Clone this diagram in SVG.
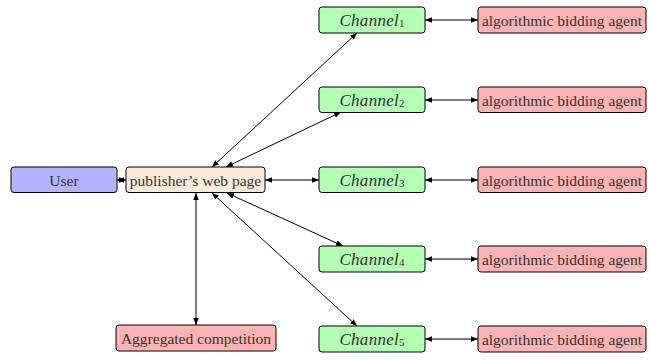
<svg xmlns="http://www.w3.org/2000/svg" width="649" height="360" viewBox="0 0 649 360">
<defs>
<marker id="ah" viewBox="0 0 10 10" refX="10" refY="5" markerWidth="7" markerHeight="7" markerUnits="userSpaceOnUse" orient="auto-start-reverse">
<path d="M0,1 L10,5 L0,9 Z" fill="#000"/>
</marker>
</defs>
<style>
.n rect{stroke:#000;stroke-width:1;}
text{font-family:'Liberation Serif','Times New Roman',serif;font-size:15.5px;fill:#333;text-anchor:middle;dominant-baseline:central;}
.i{font-style:italic;font-size:17px;letter-spacing:0.3px;}
.blue{fill:#b3b3ff;}
.org{fill:#ffebd8;}
.grn{fill:#b3ffb3;}
.red{fill:#ffb3b3;}
#edges line{stroke:#000;stroke-width:1;marker-start:url(#ah);marker-end:url(#ah);}
</style>
<rect width="649" height="360" fill="#fff"/>
<g id="edges">
<line x1="117" y1="180" x2="126" y2="180"/>
<line x1="212" y1="167" x2="357" y2="33"/>
<line x1="226" y1="167" x2="341" y2="112"/>
<line x1="265" y1="180" x2="319" y2="180"/>
<line x1="227" y1="193" x2="343" y2="246"/>
<line x1="212" y1="193" x2="357" y2="326"/>
<line x1="196" y1="193" x2="196" y2="325"/>
<line x1="425" y1="20" x2="478" y2="20"/>
<line x1="425" y1="100" x2="478" y2="100"/>
<line x1="425" y1="180" x2="478" y2="180"/>
<line x1="425" y1="259" x2="478" y2="259"/>
<line x1="425" y1="339" x2="478" y2="339"/>
</g>
<g id="user" class="n"><rect class="blue" x="11" y="167" width="106" height="25.5" rx="3"/><text x="64" y="180">User</text></g>
<g id="publisher" class="n"><rect class="org" x="126" y="167" width="139" height="25.5" rx="3"/><text x="195.5" y="180">publisher’s web page</text></g>
<g id="aggregated" class="n"><rect class="red" x="116" y="325" width="160" height="26" rx="3"/><text x="196" y="338">Aggregated competition</text></g>
<g id="ch1" class="n"><rect class="grn" x="319" y="7" width="106" height="26" rx="3"/><text x="372" y="20"><tspan class="i">Channel</tspan><tspan font-size="11" dy="3">1</tspan></text></g>
<g id="ch2" class="n"><rect class="grn" x="319" y="87" width="106" height="25.5" rx="3"/><text x="372" y="100"><tspan class="i">Channel</tspan><tspan font-size="11" dy="3">2</tspan></text></g>
<g id="ch3" class="n"><rect class="grn" x="319" y="167" width="106" height="25.5" rx="3"/><text x="372" y="180"><tspan class="i">Channel</tspan><tspan font-size="11" dy="3">3</tspan></text></g>
<g id="ch4" class="n"><rect class="grn" x="319" y="246" width="106" height="26" rx="3"/><text x="372" y="259"><tspan class="i">Channel</tspan><tspan font-size="11" dy="3">4</tspan></text></g>
<g id="ch5" class="n"><rect class="grn" x="319" y="326" width="106" height="26" rx="3"/><text x="372" y="339"><tspan class="i">Channel</tspan><tspan font-size="11" dy="3">5</tspan></text></g>
<g id="agent1" class="n"><rect class="red" x="478" y="7" width="168" height="26" rx="3"/><text x="562" y="20">algorithmic bidding agent</text></g>
<g id="agent2" class="n"><rect class="red" x="478" y="87" width="168" height="25.5" rx="3"/><text x="562" y="100">algorithmic bidding agent</text></g>
<g id="agent3" class="n"><rect class="red" x="478" y="167" width="168" height="25.5" rx="3"/><text x="562" y="180">algorithmic bidding agent</text></g>
<g id="agent4" class="n"><rect class="red" x="478" y="246" width="168" height="26" rx="3"/><text x="562" y="259">algorithmic bidding agent</text></g>
<g id="agent5" class="n"><rect class="red" x="478" y="326" width="168" height="26" rx="3"/><text x="562" y="339">algorithmic bidding agent</text></g>
</svg>
